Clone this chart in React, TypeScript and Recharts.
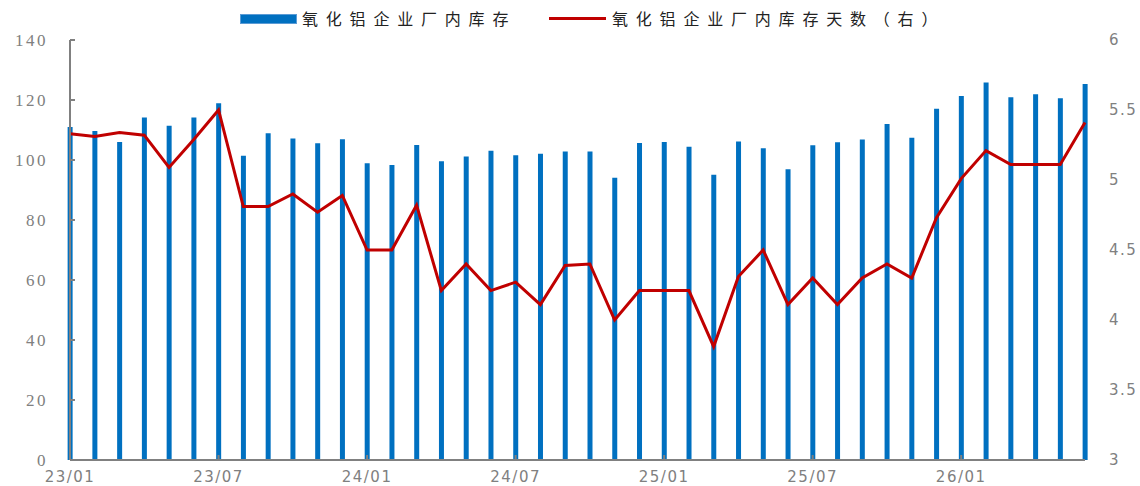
import React from 'react';
import { ComposedChart, Bar, Line, XAxis, YAxis } from 'recharts';

const months = [
  '23/01', '23/02', '23/03', '23/04', '23/05', '23/06', '23/07', '23/08', '23/09', '23/10', '23/11', '23/12',
  '24/01', '24/02', '24/03', '24/04', '24/05', '24/06', '24/07', '24/08', '24/09', '24/10', '24/11', '24/12',
  '25/01', '25/02', '25/03', '25/04', '25/05', '25/06', '25/07', '25/08', '25/09', '25/10', '25/11', '25/12',
  '26/01', '26/02', '26/03', '26/04', '26/05', '26/06',
];

// 氧化铝企业厂内库存 (left axis)
const inventory = [
  111, 109.7, 106, 114.2, 111.4, 114.2, 118.9, 101.4, 108.9, 107.2, 105.6, 106.9,
  98.9, 98.3, 105, 99.6, 101.2, 103.1, 101.6, 102.1, 102.8, 102.8, 94.1, 105.7,
  106, 104.4, 95.1, 106.2, 103.9, 96.9, 104.9, 105.9, 106.8, 112, 107.4, 117.1,
  121.3, 125.8, 120.9, 121.9, 120.6, 125.3,
];

// 氧化铝企业厂内库存天数 (right axis)
const inventoryDays = [
  5.33, 5.31, 5.34, 5.32, 5.09, 5.29, 5.5, 4.81, 4.81, 4.9, 4.77, 4.89,
  4.5, 4.5, 4.82, 4.21, 4.4, 4.21, 4.27, 4.11, 4.39, 4.4, 4.0, 4.21,
  4.21, 4.21, 3.81, 4.31, 4.5, 4.11, 4.3, 4.11, 4.3, 4.4, 4.3, 4.73,
  5.01, 5.21, 5.11, 5.11, 5.11, 5.41,
];

const xTicks = [0, 6, 12, 18, 24, 30, 36];
const leftTicks = [0, 20, 40, 60, 80, 100, 120, 140];
const rightTicks = [3, 3.5, 4, 4.5, 5, 5.5, 6];

const data = months.map((m, i) => ({ idx: i, month: m, inv: inventory[i], days: inventoryDays[i] }));

const GREY = '#808080';
const BLUE = '#0070C0';
const RED = '#C00000';

const LeftTick = (p: any) => (
  <g>
    <line x1={p.x + 22} x2={p.x + 27} y1={p.y} y2={p.y} stroke={GREY} strokeWidth={2} />
    <text x={p.x} y={p.y} dy={6} textAnchor="end" fill={GREY}
      style={{ fontFamily: '"Liberation Serif", serif', fontSize: 17, letterSpacing: 2.5 }}>
      {p.payload.value}
    </text>
  </g>
);

const RightTick = (p: any) => (
  <text x={p.x} y={p.y} dy={5} textAnchor="start" fill={GREY}
    style={{ fontFamily: '"DejaVu Sans", sans-serif', fontSize: 15, letterSpacing: 1.5 }}>
    {p.payload.value}
  </text>
);

const BottomTick = (p: any) => (
  <g>
    <line x1={p.x} x2={p.x} y1={p.y} y2={p.y - 5} stroke={GREY} strokeWidth={2} />
    <text x={p.x} y={p.y} dy={22} textAnchor="middle" fill={GREY}
      style={{ fontFamily: '"DejaVu Sans", sans-serif', fontSize: 15, letterSpacing: 1.5 }}>
      {months[p.payload.value]}
    </text>
  </g>
);

const legendText: React.CSSProperties = {
  position: 'absolute',
  top: 8,
  fontFamily: '"Noto Sans CJK SC", sans-serif',
  fontSize: 16,
  letterSpacing: 7.8,
  color: '#222',
  whiteSpace: 'nowrap',
  lineHeight: '20px',
};

export default function App() {
  return (
    <div style={{ position: 'absolute', left: 0, top: 0, width: 1140, height: 486, background: '#fff' }}>
      <div style={{ position: 'absolute', left: 240, top: 14, width: 55, height: 8, background: BLUE, border: '1px solid #5b9bd5' }} />
      <div style={{ ...legendText, left: 302 }}>氧化铝企业厂内库存</div>
      <div style={{ position: 'absolute', left: 549, top: 17, width: 57, height: 3, background: RED }} />
      <div style={{ ...legendText, left: 612 }}>氧化铝企业厂内库存天数（右）</div>
      <ComposedChart width={1140} height={486} data={data} margin={{ top: 40, right: 0, bottom: 0, left: 0 }}>
        <XAxis
          dataKey="idx"
          type="number"
          domain={[0, 41]}
          ticks={xTicks}
          interval={0}
          height={26}
          tickSize={0}
          tickMargin={0}
          tickLine={false}
          axisLine={{ stroke: GREY, strokeWidth: 2 }}
          tick={<BottomTick />}
        />
        <YAxis
          yAxisId="left"
          domain={[0, 140]}
          ticks={leftTicks}
          interval={0}
          width={70}
          tickSize={0}
          tickMargin={22}
          tickLine={false}
          axisLine={{ stroke: GREY, strokeWidth: 2 }}
          tick={<LeftTick />}
        />
        <YAxis
          yAxisId="right"
          orientation="right"
          domain={[3, 6]}
          ticks={rightTicks}
          interval={0}
          width={55}
          tickSize={0}
          tickMargin={24}
          tickLine={false}
          axisLine={false}
          tick={<RightTick />}
        />
        <Bar yAxisId="left" dataKey="inv" fill={BLUE} barSize={5} isAnimationActive={false} />
        <Line yAxisId="right" dataKey="days" stroke={RED} strokeWidth={3} dot={false} type="linear" isAnimationActive={false} />
      </ComposedChart>
    </div>
  );
}
